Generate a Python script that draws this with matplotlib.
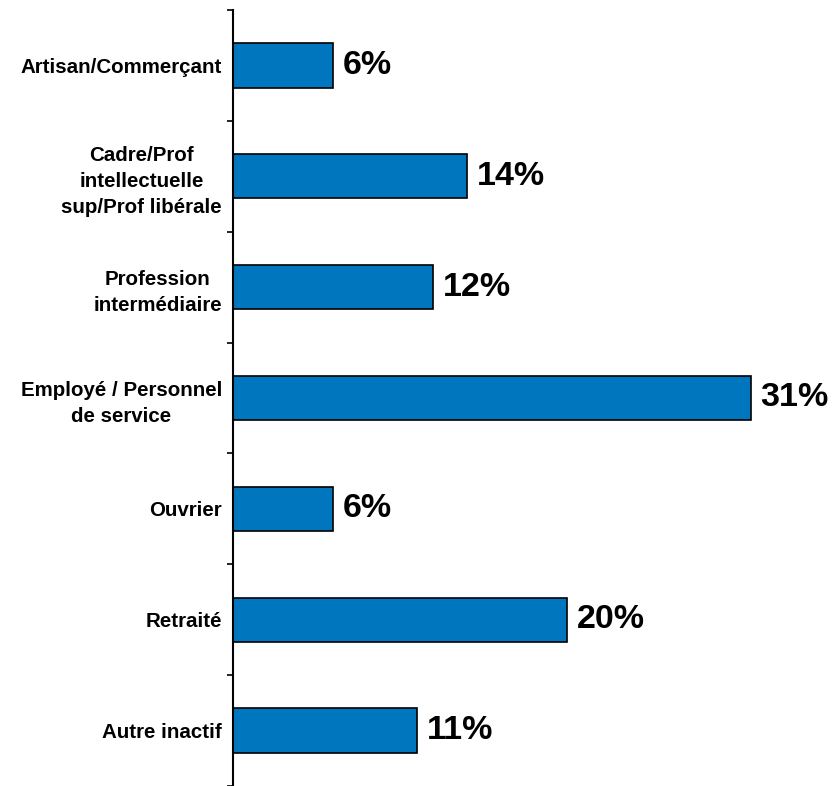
import matplotlib
matplotlib.use("Agg")
import matplotlib.pyplot as plt
import numpy as np

categories = [
    "Artisan/Commerçant",
    "Cadre/Prof\nintellectuelle\nsup/Prof libérale",
    "Profession\nintermédiaire",
    "Employé / Personnel\nde service",
    "Ouvrier",
    "Retraité",
    "Autre inactif",
]
values = [6, 14, 12, 31, 6, 20, 11]
value_labels = ["6%", "14%", "12%", "31%", "6%", "20%", "11%"]

plt.rcParams["font.family"] = ["Liberation Sans", "DejaVu Sans"]

fig = plt.figure(figsize=(8.34, 7.86), dpi=100)
ax = fig.add_axes([233 / 834, 0.0, 1 - 233 / 834, 1 - 10 / 786])

y = np.arange(len(categories))
ax.barh(y, values, height=0.4, color="#0076BE", edgecolor="black", linewidth=1.2)

for yi, v, lab in zip(y, values, value_labels):
    ax.text(v + 0.6, yi, lab, va="center", ha="left", fontsize=24.5, fontweight="bold")

ax.set_xlim(0, 36)
ax.set_ylim(len(categories) - 0.5, -0.5)

ax.set_yticks(y)
ax.set_yticklabels(categories, fontsize=14.8, fontweight="bold",
                   multialignment="center", linespacing=1.45)
ax.set_yticks(np.arange(-0.5, len(categories), 1.0), minor=True)
ax.tick_params(axis="y", which="major", length=0, pad=8)
ax.tick_params(axis="y", which="minor", length=4, width=1.2)
ax.set_xticks([])

for s in ["top", "right", "bottom"]:
    ax.spines[s].set_visible(False)
ax.spines["left"].set_linewidth(1.5)

fig.savefig("out.png", dpi=100)
